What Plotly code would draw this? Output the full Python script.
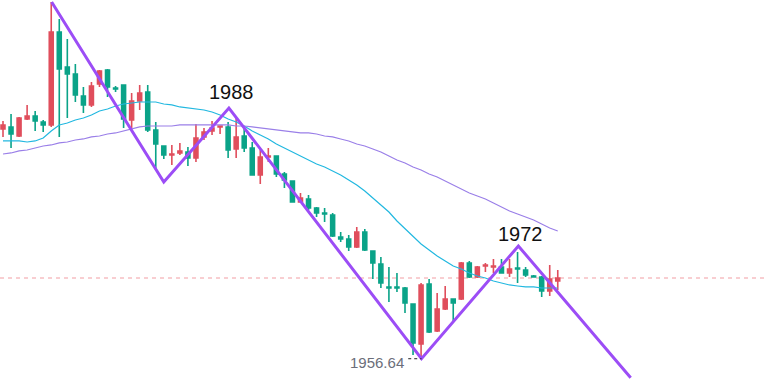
import plotly.graph_objects as go

# ---- data ----
opens = [1985.27, 1985.52, 1984.39, 1986.52, 1986.89, 1986.14, 1985.77, 1997.39, 1993.02, 1992.14,
         1989.39, 1988.27, 1990.89, 1992.64, 1990.39, 1990.77, 1986.39, 1988.77, 1989.89, 1985.14,
         1983.14, 1982.02, 1982.27, 1982.39, 1981.64, 1984.27, 1985.02, 1985.52, 1985.52, 1982.77,
         1984.39, 1982.89, 1979.52, 1981.77, 1981.89, 1979.64, 1978.77, 1976.14, 1976.52, 1975.39,
         1974.77, 1974.52, 1971.77, 1971.52, 1970.52, 1972.39, 1970.02, 1968.39, 1965.52, 1965.52,
         1965.39, 1963.39, 1958.39, 1965.89, 1960.02, 1962.77, 1964.02, 1964.02, 1968.52, 1966.77,
         1968.14, 1968.02, 1968.02, 1967.27, 1967.89, 1967.64, 1966.89, 1966.77, 1965.02, 1966.27]
highs = [1986.27, 1987.14, 1986.77, 1988.27, 1987.52, 1986.39, 2001.14, 1999.02, 1996.52, 1993.39,
         1990.52, 1991.14, 1992.64, 1992.77, 1990.64, 1990.77, 1989.77, 1990.77, 1990.77, 1986.14,
         1983.14, 1983.27, 1983.52, 1983.02, 1985.89, 1985.39, 1986.27, 1985.64, 1986.14, 1986.77,
         1985.39, 1983.64, 1982.64, 1982.89, 1981.89, 1979.89, 1978.77, 1977.27, 1977.02, 1975.52,
         1975.39, 1974.77, 1972.39, 1972.02, 1973.02, 1972.77, 1970.02, 1969.27, 1968.02, 1967.27,
         1965.52, 1963.39, 1966.02, 1966.52, 1964.77, 1965.64, 1964.02, 1968.64, 1968.77, 1968.14,
         1968.52, 1969.02, 1969.02, 1969.02, 1969.89, 1968.02, 1967.02, 1966.89, 1968.27, 1967.64]
lows = [1984.27, 1982.89, 1984.27, 1986.39, 1985.02, 1984.89, 1985.52, 1984.27, 1986.64, 1988.64,
        1987.27, 1988.02, 1990.52, 1989.27, 1989.89, 1985.39, 1985.39, 1987.64, 1984.89, 1980.14,
        1981.52, 1980.77, 1982.02, 1980.64, 1981.14, 1983.89, 1984.52, 1984.64, 1981.64, 1981.64,
        1982.39, 1979.52, 1978.39, 1981.14, 1979.27, 1977.89, 1976.14, 1976.14, 1975.14, 1974.27,
        1973.64, 1971.77, 1971.14, 1970.02, 1970.39, 1970.02, 1966.52, 1965.39, 1963.64, 1964.89,
        1962.27, 1957.02, 1956.64, 1959.77, 1959.89, 1962.64, 1961.14, 1963.89, 1966.64, 1966.64,
        1967.39, 1967.27, 1967.27, 1966.77, 1966.02, 1966.77, 1966.77, 1964.27, 1964.39, 1965.14]
closes = [1985.77, 1984.64, 1986.64, 1986.89, 1986.27, 1985.77, 1997.39, 1992.77, 1992.14, 1989.52,
          1988.27, 1990.64, 1992.52, 1990.52, 1990.27, 1986.52, 1988.77, 1989.77, 1985.14, 1983.39,
          1982.02, 1982.14, 1982.52, 1981.64, 1984.14, 1984.89, 1985.39, 1985.64, 1982.64, 1984.27,
          1982.89, 1979.52, 1981.77, 1981.89, 1979.64, 1978.89, 1976.14, 1976.64, 1975.39, 1974.77,
          1974.64, 1971.89, 1971.52, 1970.52, 1972.39, 1970.14, 1968.52, 1966.02, 1965.39, 1965.39,
          1963.52, 1958.52, 1965.77, 1959.89, 1962.77, 1964.02, 1963.52, 1968.52, 1966.77, 1968.02,
          1968.27, 1968.14, 1967.27, 1967.77, 1967.77, 1967.02, 1966.77, 1965.02, 1966.52, 1966.64]

ma_fast = [1983.77, 1983.77, 1983.77, 1983.64, 1983.77, 1984.14, 1985.02, 1985.77, 1986.02, 1986.39,
           1986.64, 1987.02, 1987.52, 1987.77, 1988.14, 1988.39, 1988.52, 1988.64, 1988.64, 1988.64,
           1988.39, 1988.27, 1988.02, 1987.89, 1987.77, 1987.64, 1987.39, 1987.02, 1986.52, 1986.14,
           1985.64, 1985.02, 1984.52, 1984.02, 1983.39, 1982.89, 1982.39, 1981.89, 1981.39, 1980.89,
           1980.52, 1980.02, 1979.52, 1978.89, 1978.27, 1977.52, 1976.64, 1975.77, 1974.89, 1973.77,
           1972.77, 1971.77, 1970.89, 1970.14, 1969.39, 1968.77, 1968.14, 1967.77, 1967.27, 1966.89,
           1966.64, 1966.27, 1966.02, 1965.77, 1965.64, 1965.52, 1965.52, 1965.39, 1965.39, 1965.39]
ma_slow = [1982.14, 1982.27, 1982.52, 1982.64, 1982.89, 1983.14, 1983.27, 1983.52, 1983.64, 1983.89,
           1984.02, 1984.27, 1984.39, 1984.64, 1984.77, 1985.02, 1985.27, 1985.52, 1985.64, 1985.64,
           1985.64, 1985.64, 1985.77, 1985.77, 1985.77, 1985.77, 1985.77, 1985.77, 1985.77, 1985.64,
           1985.64, 1985.52, 1985.39, 1985.27, 1985.14, 1985.02, 1984.89, 1984.77, 1984.77, 1984.64,
           1984.39, 1984.27, 1984.02, 1983.77, 1983.39, 1983.14, 1982.77, 1982.39, 1981.89, 1981.39,
           1981.02, 1980.52, 1980.14, 1979.64, 1979.27, 1978.77, 1978.27, 1977.77, 1977.27, 1976.89,
           1976.52, 1976.02, 1975.52, 1975.02, 1974.64, 1974.27, 1973.89, 1973.39, 1972.89, 1972.52]

zigzag_x = [6.05, 20.0, 28.1, 52.05, 64.1, 78.07]
zigzag_y = [2001.14, 1978.64, 1987.89, 1956.55, 1970.64, 1954.18]

label_high1 = "1988"
label_high2 = "1972"
label_low = "1956.64"

idx = list(range(len(opens)))

RED = "#E04E5C"
GREEN = "#0AA388"

fig = go.Figure()
fig.add_trace(go.Candlestick(
    x=idx, open=opens, high=highs, low=lows, close=closes,
    increasing=dict(line=dict(color=RED, width=1.6), fillcolor=RED),
    decreasing=dict(line=dict(color=GREEN, width=1.6), fillcolor=GREEN),
    whiskerwidth=0, showlegend=False, hoverinfo="skip",
))
fig.add_trace(go.Scatter(x=idx, y=ma_fast, mode="lines",
                         line=dict(color="#22B8E0", width=1.2), showlegend=False, hoverinfo="skip"))
fig.add_trace(go.Scatter(x=idx, y=ma_slow, mode="lines",
                         line=dict(color="#9A7FE8", width=1.2), showlegend=False, hoverinfo="skip"))
fig.add_trace(go.Scatter(x=zigzag_x, y=zigzag_y, mode="lines",
                         line=dict(color="#9C4DF6", width=3), showlegend=False, hoverinfo="skip"))

# last-price dashed line
fig.add_shape(type="line", xref="paper", x0=0, x1=1, yref="y", y0=closes[-1], y1=closes[-1],
              line=dict(color="#F29DA3", width=1, dash="4px,4px"), layer="below")

# dotted leader to the low
fig.add_shape(type="line", xref="x", x0=zigzag_x[3] - 1.65, x1=zigzag_x[3],
              yref="y", y0=zigzag_y[3], y1=zigzag_y[3],
              line=dict(color="#222222", width=1, dash="dot"))

fig.add_annotation(x=zigzag_x[2], y=zigzag_y[2], text=label_high1, showarrow=False,
                   xanchor="center", yanchor="middle", xshift=3, yshift=16,
                   font=dict(family="Liberation Sans, Arial", size=20, color="#111111"))
fig.add_annotation(x=zigzag_x[4], y=zigzag_y[4], text=label_high2, showarrow=False,
                   xanchor="center", yanchor="middle", xshift=2, yshift=12,
                   font=dict(family="Liberation Sans, Arial", size=20, color="#111111"))
fig.add_annotation(x=zigzag_x[3], y=zigzag_y[3], text=label_low, showarrow=False,
                   xanchor="right", yanchor="middle", xshift=-15, yshift=-4,
                   font=dict(family="Liberation Sans, Arial", size=15, color="#6B6E7A"))

fig.update_layout(
    width=766, height=385,
    margin=dict(l=0, r=0, t=0, b=0),
    paper_bgcolor="white", plot_bgcolor="white",
    xaxis=dict(range=[-0.373, 94.9], visible=False, rangeslider=dict(visible=False), fixedrange=True),
    yaxis=dict(range=[1953.265, 2001.39], visible=False, fixedrange=True),
    showlegend=False,
    boxgap=0.3,
)

fig.write_html("out.html", config={"displayModeBar": False},
               post_script="document.body.style.margin='0';document.body.style.overflow='hidden';")
